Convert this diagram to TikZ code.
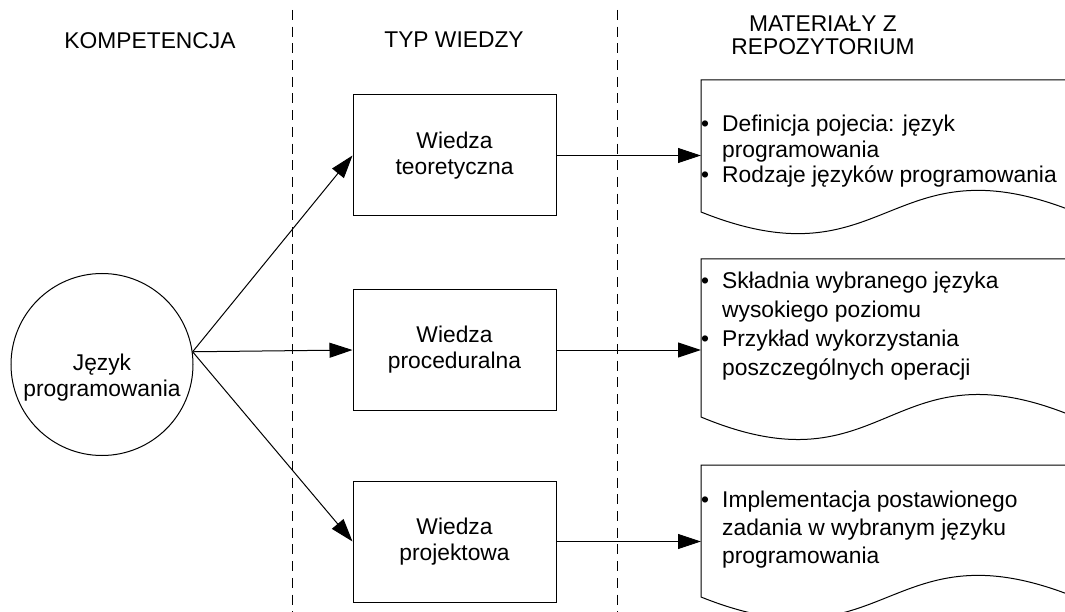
\documentclass[tikz,border=0pt]{standalone}
\usepackage{fontspec}
\setmainfont{Liberation Sans}
\usetikzlibrary{arrows.meta,calc}
\begin{document}
\begin{tikzpicture}[x=1pt,y=-1pt,
  every node/.style={font=\fontsize{22.8}{26}\selectfont, inner sep=0pt},
  outline/.style={line width=1pt},
  arr/.style={line width=1pt,-{Triangle[length=23pt,width=15pt]}},
  kbox/.style={draw,line width=1pt,minimum width=203pt,minimum height=121pt,align=center},
  sep/.style={line width=1pt,dash pattern=on 10pt off 6.7pt},
  hdr/.style={align=center},
]
\useasboundingbox (0,0) rectangle (1065,612);

% column separators
\draw[sep] (292,10) -- (292,612);
\draw[sep] (617,10) -- (617,612);

% column headings
\node[hdr] (h1) at (150,41) {KOMPETENCJA};
\node[hdr] (h2) at (454,40) {TYP WIEDZY};
\node[hdr,font=\fontsize{22.8}{23}\selectfont] (h3) at (823,35) {MATERIAŁY Z\\REPOZYTORIUM};

% competence
\node[draw,circle,outline,minimum size=182pt] (c) at (102,364.5) {};
\node[align=center] (ctext) at (102,378) {Język\\programowania};

% knowledge types
\node[kbox] (b1) at (454.5,155.5) {Wiedza\\teoretyczna};
\node[kbox] (b2) at (454.5,350) {Wiedza\\proceduralna};
\node[kbox] (b3) at (454.5,541.5) {Wiedza\\projektowa};

% repository documents (right side runs off the page)
\draw[outline] (1075,80) -- (701,80) -- (701,212)
  .. controls (888,287) and (888,137) .. (1075,212);
\draw[outline] (1075,259) -- (701,259) -- (701,417)
  .. controls (888,495) and (888,339) .. (1075,417);
\draw[outline] (1075,465) -- (701,465) -- (701,597)
  .. controls (888,672) and (888,522) .. (1075,597);
\coordinate (d1) at (701,155);
\coordinate (d2) at (701,350);
\coordinate (d3) at (701,541);

\node[anchor=base west,font=\fontsize{22.8}{25.5}\selectfont] (t1) at (701,131.7)
  {\begin{tabular}[t]{@{}p{21pt}@{}l@{}}
   • & Definicja pojecia: język\\
     & programowania\\
   • & Rodzaje języków programowania
   \end{tabular}};
\node[anchor=base west,font=\fontsize{22.8}{29}\selectfont] (t2) at (701,288.3)
  {\begin{tabular}[t]{@{}p{21pt}@{}l@{}}
   • & Składnia wybranego języka\\
     & wysokiego poziomu\\
   • & Przykład wykorzystania\\
     & poszczególnych operacji
   \end{tabular}};
\node[anchor=base west,font=\fontsize{22.8}{28}\selectfont] (t3) at (701,507)
  {\begin{tabular}[t]{@{}p{21pt}@{}l@{}}
   • & Implementacja postawionego\\
     & zadania w wybranym języku\\
     & programowania
   \end{tabular}};

% connectors
\draw[arr] (c.8) -- (b1.west);
\draw[arr] (c.8) -- (b2.west);
\draw[arr] (c.8) -- (b3.west);
\draw[arr] (b1.east) -- (b1.east -| d1);
\draw[arr] (b2.east) -- (b2.east -| d2);
\draw[arr] (b3.east) -- (b3.east -| d3);
\end{tikzpicture}
\end{document}
